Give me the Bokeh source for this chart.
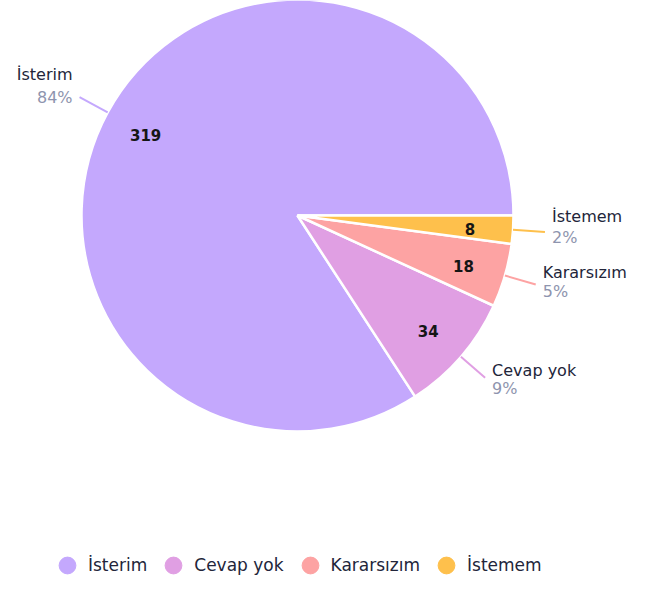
import numpy as np
from bokeh.plotting import figure
from bokeh.models import Range1d, ColumnDataSource, Legend, LegendItem
from bokeh.core.properties import value
from bokeh.embed import file_html
from bokeh.resources import INLINE

categories = ["İsterim", "Cevap yok", "Kararsızım", "İstemem"]
counts = [319, 34, 18, 8]
colors = ["#c4a8fd", "#e09fe3", "#fda3a3", "#fec04c"]

FONT = "DejaVu Sans"
NAME_COLOR = "#22253a"
PCT_COLOR = "#8e94ae"

W, H = 629, 576
p = figure(width=W, height=H, x_range=Range1d(0, W), y_range=Range1d(0, H),
           output_backend="svg", toolbar_location=None, min_border=0)
p.axis.visible = False
p.grid.visible = False
p.outline_line_color = None
p.background_fill_color = None
p.border_fill_color = "white"

cx, cy, R = 297, 361, 216
vals = np.array(counts, dtype=float)
frac = vals / vals.sum()
ends = np.cumsum(frac) * 2 * np.pi
starts = ends - frac * 2 * np.pi
mids = (starts + ends) / 2
pcts = [f"{int(round(f * 100))}%" for f in frac]

src = ColumnDataSource(dict(cat=categories, start=starts, end=ends, color=colors))
p.wedge(x=cx, y=cy, radius=R, start_angle="start", end_angle="end", source=src,
        fill_color="color", line_color="white", line_width=2.5)

# value labels inside
r_in = 0.8 * R
p.text(x=cx + r_in * np.cos(mids), y=cy + r_in * np.sin(mids) - 2, text=[str(c) for c in counts],
       text_font=value(FONT), text_font_size="15px", text_font_style="bold",
       text_color="#151515", text_align="center", text_baseline="middle")

# connectors
r1, r2 = R, R + 32
x1 = cx + r1 * np.cos(mids); y1 = cy + r1 * np.sin(mids)
x2 = cx + r2 * np.cos(mids); y2 = cy + r2 * np.sin(mids)
p.segment(x0=x1, y0=y1, x1=x2, y1=y2, line_color=colors, line_width=2)

right = np.cos(mids) >= 0
tx = np.where(right, x2 + 7, x2 - 7)
aligns = ["left" if r else "right" for r in right]
s = np.sin(mids)
p.text(x=tx, y=y2 + 16 + 14 * s, text=categories, text_font=value(FONT), text_font_size="16px",
       text_color=NAME_COLOR, text_align=aligns, text_baseline="middle")
p.text(x=tx, y=y2 - 5 + 9 * s, text=pcts, text_font=value(FONT), text_font_size="16px",
       text_color=PCT_COLOR, text_align=aligns, text_baseline="middle")

# legend
items = []
for c, col in zip(categories, colors):
    r = p.scatter(x=[np.nan], y=[np.nan], marker="circle", size=16, fill_color=col, line_color=col)
    items.append(LegendItem(label=c, renderers=[r]))
leg = Legend(items=items, orientation="horizontal", location=(46, -10),
             glyph_width=42, glyph_height=42, label_standoff=0, spacing=5,
             padding=0, margin=0, border_line_color=None, background_fill_alpha=0,
             label_text_font=FONT, label_text_font_size="17px", label_text_color=NAME_COLOR)
p.add_layout(leg)

open("out.html", "w").write(file_html(p, INLINE))
